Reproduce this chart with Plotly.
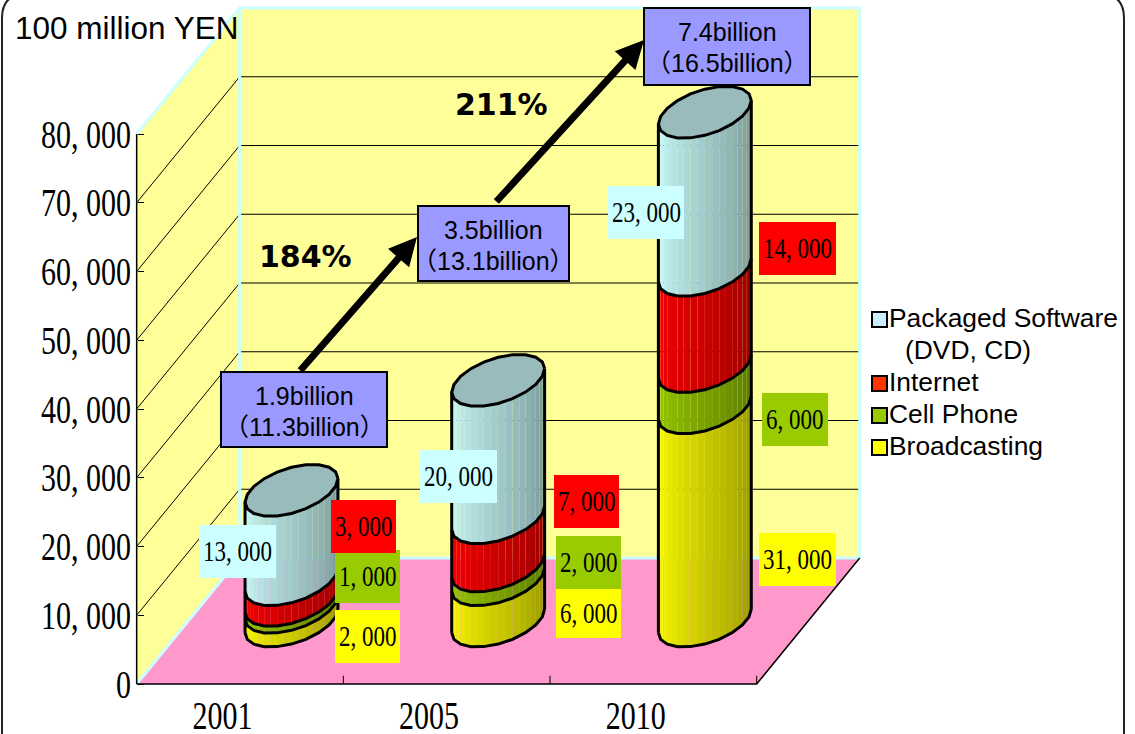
import numpy as np
import plotly.graph_objects as go

YEARS = ["2001", "2005", "2010"]
BROADCASTING = [2000, 6000, 31000]
CELL_PHONE = [1000, 2000, 6000]
INTERNET = [3000, 7000, 14000]
PACKAGED = [13000, 20000, 23000]
Y_TICKS = [0, 10000, 20000, 30000, 40000, 50000, 60000, 70000, 80000]
MARKET_TEXT = ["1.9billion", "3.5billion", "7.4billion"]
TOTAL_TEXT = ["（11.3billion）", "（13.1billion）", "（16.5billion）"]
GROWTH_TEXT = ["184%", "211%"]
LEGEND_NAMES = ["Packaged Software", "Internet", "Cell Phone", "Broadcasting"]

WIDTH, HEIGHT = 1135, 734
SERIF = "Liberation Serif"
SANS = "Liberation Sans, Noto Sans CJK JP"

# one category step is 206.67 px, 80000 is 550 px, the depth axis runs (103, -126) px
CAT_PX = 206.67
VAL_PX = 550 / 80000
CAT0_X = 240
ZERO_Y = 684
DEPTH_X = 103 / CAT_PX
DEPTH_V = 126 / VAL_PX

RADIUS_X = 0.2
RADIUS_DEPTH = 0.206
FACETS = 20

STACK = [BROADCASTING, CELL_PHONE, INTERNET, PACKAGED]
STACK_RGB = [(255, 255, 0), (153, 204, 0), (255, 0, 0), (204, 255, 255)]
CAP_COLOR = "#9ABBBB"
WALL = "#FFFF99"
FLOOR = "#FF99CC"
EDGE = "#CCFFFF"


def project(u, v, d=0.0):
    return u + d * DEPTH_X, v + d * DEPTH_V


def to_paper(px, py):
    return px / WIDTH, 1 - py / HEIGHT


fig = go.Figure()


def add_path(x, y, fill=None, color="black", width=0.0):
    fig.add_trace(
        go.Scatter(
            x=x,
            y=y,
            mode="lines",
            fill="toself" if fill else None,
            fillcolor=fill,
            line=dict(color=color, width=width),
            hoverinfo="skip",
            showlegend=False,
        )
    )


def add_line(points, color="black", width=1.0):
    xy = [project(*p) for p in points]
    add_path([p[0] for p in xy], [p[1] for p in xy], None, color, width)


def add_polygon(points, fill):
    xy = [project(*p) for p in points]
    add_path([p[0] for p in xy], [p[1] for p in xy], fill, fill, 0)


left, right = -0.5, 2.5
top = Y_TICKS[-1]

# walls and floor
add_polygon([(left, 0, 1), (right, 0, 1), (right, top, 1), (left, top, 1)], WALL)
add_polygon([(left, 0, 0), (left, top, 0), (left, top, 1), (left, 0, 1)], WALL)
add_polygon([(left, 0, 0), (right, 0, 0), (right, 0, 1), (left, 0, 1)], FLOOR)

for v in Y_TICKS[1:-1]:
    add_line([(left, v, 0), (left, v, 1), (right, v, 1)], "black", 1)

add_line([(left, 0, 1), (left, top, 1), (right, top, 1), (right, 0, 1)], EDGE, 3)
add_line([(left, top, 0), (left, top, 1)], EDGE, 3)
add_line([(left, 0, 0), (left, 0, 1), (right, 0, 1)], EDGE, 3)

add_line([(left, 0, 0), (left, top, 0)], "black", 1.5)
add_line([(left, 0, 0), (right, 0, 0), (right, 0, 1)], "black", 1.5)
for i in range(len(YEARS)):
    add_line([(i + 0.5, 0, 0), (i + 0.5, 1200, 0)], "black", 1)


# cylinders
def ring(i, v, t):
    u = i + RADIUS_X * np.cos(t)
    d = 0.5 + RADIUS_DEPTH * np.sin(t)
    return project(u, v, d)


edge_x = DEPTH_X * RADIUS_DEPTH
t_right = np.arctan2(edge_x, RADIUS_X)
t_left = t_right + np.pi
front = np.linspace(t_left, t_right + 2 * np.pi, FACETS + 1)
whole = np.linspace(0, 2 * np.pi, FACETS + 1) + t_right

for i in range(len(YEARS)):
    base = 0
    for values, rgb in zip(STACK, STACK_RGB):
        upper = base + values[i]
        for k in range(FACETS):
            shade = 1.0 - 0.42 * k / (FACETS - 1)
            col = "rgb({:.0f},{:.0f},{:.0f})".format(*[c * shade for c in rgb])
            a, b = front[k], front[k + 1]
            x0, y0 = ring(i, base, a)
            x1, y1 = ring(i, base, b)
            x2, y2 = ring(i, upper, b)
            x3, y3 = ring(i, upper, a)
            add_path([x0, x1, x2, x3, x0], [y0, y1, y2, y3, y0], col, col, 0)
        # the outline is coarser than the shading, the original is visibly polygonal
        xb, yb = ring(i, base, front[::2])
        add_path(list(xb), list(yb), None, "black", 3)
        base = upper
    xt, yt = ring(i, base, whole)
    xl, yl = ring(i, 0, t_left)
    xr, yr = ring(i, 0, t_right)
    xlt, ylt = ring(i, base, t_left)
    xrt, yrt = ring(i, base, t_right)
    add_path([xl, xlt], [yl, ylt], None, "black", 3)
    add_path([xr, xrt], [yr, yrt], None, "black", 3)
    add_path(list(xt), list(yt), CAP_COLOR, "black", 3)

shapes = []
annotations = []


def add_box(x0, y0, x1, y1, fill, line_width=0):
    px0, py0 = to_paper(x0, y0)
    px1, py1 = to_paper(x1, y1)
    shapes.append(
        dict(
            type="rect",
            xref="paper",
            yref="paper",
            x0=px0,
            y0=py0,
            x1=px1,
            y1=py1,
            fillcolor=fill,
            line=dict(color="black", width=line_width),
            layer="above",
        )
    )


def add_text(text, px, py, family, size, xanchor="center"):
    x, y = to_paper(px, py)
    annotations.append(
        dict(
            text=text,
            xref="paper",
            yref="paper",
            x=x,
            y=y,
            xanchor=xanchor,
            yanchor="middle",
            showarrow=False,
            font=dict(family=family, size=size, color="black"),
        )
    )


def fmt(v):
    return f"{v:,}".replace(",", ", ")


# value labels, pixel boxes per year and series (bottom series first)
LABEL_BOXES = [
    [(335, 610, 400, 663), (335, 550, 400, 603), (331, 500, 396, 553), (199, 525, 276, 578)],
    [(556, 589, 621, 638), (556, 536, 621, 589), (554, 475, 619, 528), (420, 450, 497, 503)],
    [(759, 533, 836, 586), (762, 393, 828, 446), (759, 222, 836, 275), (608, 186, 684, 239)],
]
LABEL_FILL = ["#FFFF00", "#99CC00", "#FF0000", "#CCFFFF"]
for i, boxes in enumerate(LABEL_BOXES):
    for s, (x0, y0, x1, y1) in enumerate(boxes):
        add_box(x0, y0, x1, y1, LABEL_FILL[s])
        add_text(fmt(STACK[s][i]), (x0 + x1) / 2, (y0 + y1) / 2, SERIF, 23)

# growth arrows
ARROWS = [((299, 372), (417, 237)), ((495, 203), (644, 40))]
for (sx, sy), (ex, ey) in ARROWS:
    x, y = to_paper(ex, ey)
    annotations.append(
        dict(
            xref="paper",
            yref="paper",
            axref="pixel",
            ayref="pixel",
            x=x,
            y=y,
            ax=sx - ex,
            ay=sy - ey,
            text="",
            showarrow=True,
            arrowhead=2,
            arrowsize=0.8,
            arrowwidth=7,
            arrowcolor="black",
        )
    )

# market callouts
CALLOUTS = [(221, 372, 387, 447), (418, 206, 569, 281), (644, 8, 810, 85)]
for (x0, y0, x1, y1), a, b in zip(CALLOUTS, MARKET_TEXT, TOTAL_TEXT):
    add_box(x0, y0, x1, y1, "#9999FF", 2)
    add_text(a, (x0 + x1) / 2, y0 + 24, SANS, 25)
    add_text(b, (x0 + x1) / 2, y0 + 55, SANS, 25)

add_text(GROWTH_TEXT[0], 305, 256, "DejaVu Sans", 30)
add_text(GROWTH_TEXT[1], 501, 105, "DejaVu Sans", 30)
annotations[-1]["font"]["weight"] = "bold"
annotations[-2]["font"]["weight"] = "bold"

add_text("100 million YEN", 13, 28, SANS, 31.5, "left")

# legend
LEGEND_ROWS = [318, 382, 414, 446]
LEGEND_FILL = ["#CCECFF", "#FF3300", "#99CC00", "#FFFF00"]
for name, row, fill in zip(LEGEND_NAMES, LEGEND_ROWS, LEGEND_FILL):
    add_box(872, row - 6, 887, row + 9, fill, 2)
    add_text(name, 887, row, SANS, 26.4, "left")
add_text("(DVD, CD)", 903, 350, SANS, 26.4, "left")

# outer frame with rounded corners, it runs off the top and bottom of the picture
fx0, fx1 = to_paper(2, 0)[0], to_paper(1124, 0)[0]
fr_x, fr_y = 24 / WIDTH, 24 / HEIGHT
ft, fb = 1 + 6 / HEIGHT, -0.05
shapes.append(
    dict(
        type="path",
        xref="paper",
        yref="paper",
        path=(
            f"M {fx0} {fb} L {fx0} {ft - fr_y} Q {fx0} {ft} {fx0 + fr_x} {ft} "
            f"L {fx1 - fr_x} {ft} Q {fx1} {ft} {fx1} {ft - fr_y} L {fx1} {fb}"
        ),
        line=dict(color="#222222", width=2),
        layer="above",
    )
)

fig.update_layout(
    width=WIDTH,
    height=HEIGHT,
    margin=dict(l=0, r=0, t=0, b=0),
    paper_bgcolor="white",
    plot_bgcolor="white",
    showlegend=False,
    shapes=shapes,
    annotations=annotations,
    xaxis=dict(
        range=[-CAT0_X / CAT_PX, (WIDTH - CAT0_X) / CAT_PX],
        anchor="free",
        position=(HEIGHT - ZERO_Y) / HEIGHT,
        automargin=False,
        tickmode="array",
        tickvals=[i - 0.085 for i in range(len(YEARS))],
        ticktext=YEARS,
        ticks="",
        ticklabelstandoff=11,
        showgrid=False,
        zeroline=False,
        showline=False,
        tickfont=dict(family=SERIF, size=30, color="black"),
    ),
    yaxis=dict(
        range=[-(HEIGHT - ZERO_Y) / VAL_PX, ZERO_Y / VAL_PX],
        anchor="free",
        position=137 / WIDTH,
        automargin=False,
        tickmode="array",
        tickvals=Y_TICKS,
        ticktext=[fmt(v) for v in Y_TICKS],
        ticks="inside",
        ticklen=6,
        tickcolor="black",
        ticklabelstandoff=6,
        showgrid=False,
        zeroline=False,
        showline=False,
        tickfont=dict(family=SERIF, size=30, color="black"),
    ),
)

# the serif digits in the original are tall and narrow, no installed font is
POST_SCRIPT = """
document.body.style.margin = '0';
document.body.style.overflow = 'hidden';
function stretchSerif() {
  document.querySelectorAll('text').forEach(function (el) {
    if (el.dataset.tall || !el.style.fontFamily.includes('Serif')) return;
    var box = el.getBBox();
    var cy = box.y + box.height / 2;
    var old = el.getAttribute('transform') || '';
    el.setAttribute('transform', old + ' translate(0,' + cy + ') scale(1,1.3) translate(0,' + (-cy) + ')');
    el.dataset.tall = '1';
  });
}
stretchSerif();
setTimeout(stretchSerif, 50);
"""

fig.write_html("out.html", config={"displayModeBar": False}, post_script=POST_SCRIPT)
